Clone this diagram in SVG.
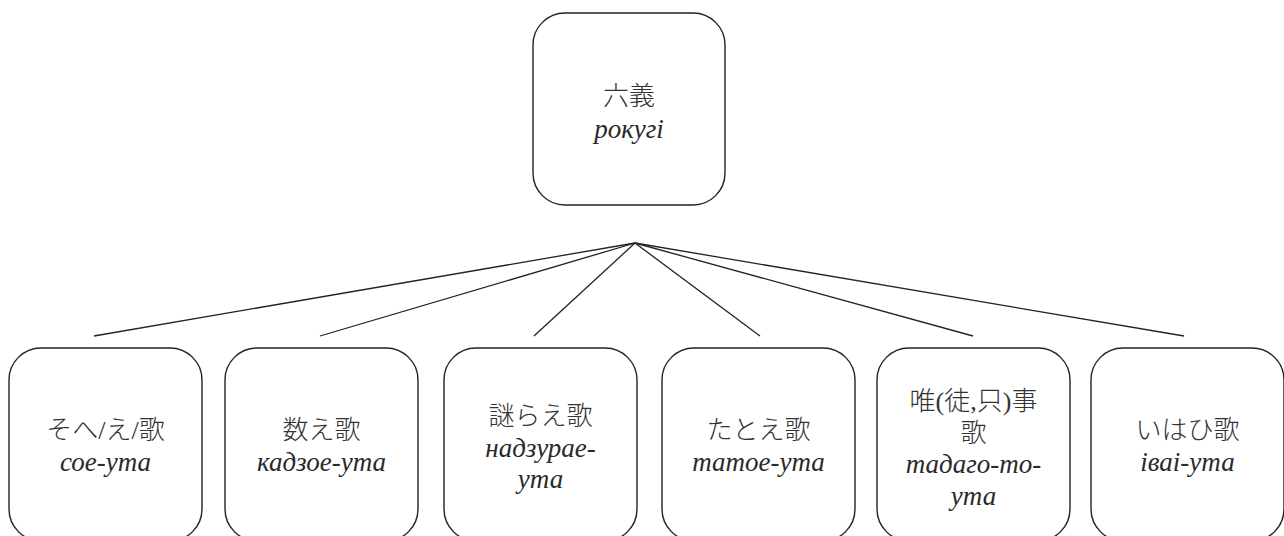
<svg xmlns="http://www.w3.org/2000/svg" width="1284" height="536" viewBox="0 0 1284 536">
<style>
.box{fill:#fff;stroke:#222;stroke-width:1.4}
.c{stroke:#222;stroke-width:1.3;fill:none}
.jp{font-family:"Liberation Serif","Noto Sans CJK JP",serif;font-size:26px;font-weight:300;fill:#333;text-anchor:middle}
.it{font-family:"Liberation Serif",serif;font-style:italic;font-size:27px;fill:#2a2a2a;text-anchor:middle}
</style>
<rect width="1284" height="536" fill="#fff"/>
<g id="connectors">
<line class="c" x1="635" y1="243" x2="94" y2="336"/>
<line class="c" x1="635" y1="243" x2="320" y2="336"/>
<line class="c" x1="635" y1="243" x2="534" y2="336"/>
<line class="c" x1="635" y1="243" x2="760" y2="336"/>
<line class="c" x1="635" y1="243" x2="973" y2="336"/>
<line class="c" x1="635" y1="243" x2="1184" y2="336"/>
</g>
<g id="rikugi">
<rect class="box" x="533" y="13" width="192" height="192" rx="32"/>
<text class="jp" x="629" y="105">六義</text>
<text class="it" x="629" y="138">рокугі</text>
</g>
<g id="soe-uta">
<rect class="box" x="9" y="348" width="193" height="193" rx="32"/>
<text class="jp" x="105.5" y="439">そへ/え/歌</text>
<text class="it" x="105.5" y="471">сое-ута</text>
</g>
<g id="kazoe-uta">
<rect class="box" x="225" y="348" width="193" height="193" rx="32"/>
<text class="jp" x="321.5" y="439">数え歌</text>
<text class="it" x="321.5" y="471">кадзое-ута</text>
</g>
<g id="nazurae-uta">
<rect class="box" x="444" y="348" width="193" height="193" rx="32"/>
<text class="jp" x="540.5" y="425">謎らえ歌</text>
<text class="it" x="540.5" y="457">надзурае-</text>
<text class="it" x="540.5" y="488">ута</text>
</g>
<g id="tatoe-uta">
<rect class="box" x="662" y="348" width="193" height="193" rx="32"/>
<text class="jp" x="758.5" y="439">たとえ歌</text>
<text class="it" x="758.5" y="471">татое-ута</text>
</g>
<g id="tadagoto-uta">
<rect class="box" x="877" y="348" width="193" height="193" rx="32"/>
<text class="jp" x="973.5" y="410">唯(徒,只)事</text>
<text class="jp" x="973.5" y="442">歌</text>
<text class="it" x="973.5" y="473">тадаго-то-</text>
<text class="it" x="973.5" y="505">ута</text>
</g>
<g id="iwai-uta">
<rect class="box" x="1091" y="348" width="193" height="193" rx="32"/>
<text class="jp" x="1187.5" y="439">いはひ歌</text>
<text class="it" x="1187.5" y="471">іваі-ута</text>
</g>
</svg>
